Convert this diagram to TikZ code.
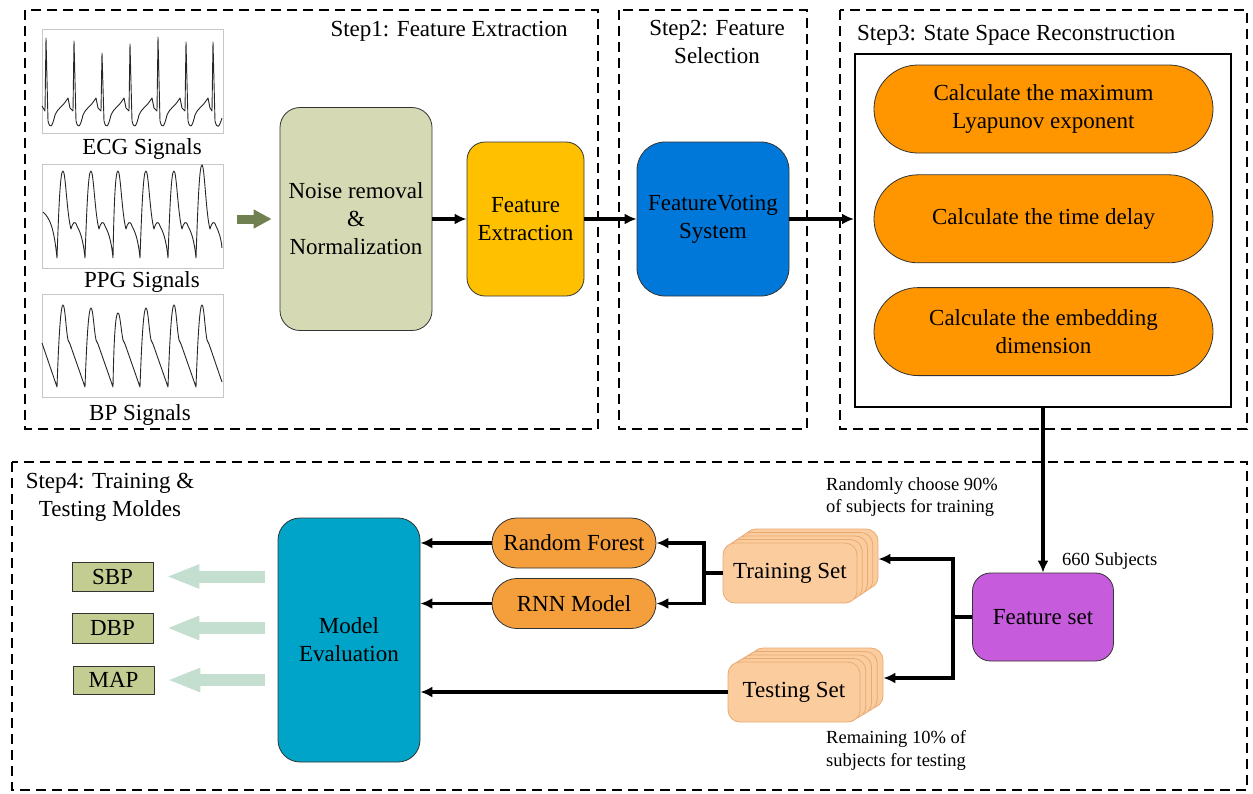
\documentclass[tikz,border=0pt]{standalone}
\usepackage{fontspec}
\setmainfont{Liberation Serif}
\usetikzlibrary{arrows.meta, positioning}

\definecolor{noisefill}{RGB}{214,218,180}
\definecolor{extractfill}{RGB}{255,192,0}
\definecolor{votefill}{RGB}{0,120,218}
\definecolor{calcorange}{RGB}{255,150,0}
\definecolor{setpurple}{RGB}{198,92,220}
\definecolor{cardfill}{RGB}{251,204,158}
\definecolor{cardline}{RGB}{232,170,115}
\definecolor{modelorange}{RGB}{245,158,60}
\definecolor{evalblue}{RGB}{0,164,200}
\definecolor{outfill}{RGB}{195,205,145}
\definecolor{fatgreen}{RGB}{196,222,208}
\definecolor{inputgreen}{RGB}{112,128,80}

\begin{document}
\begin{tikzpicture}[
  x=1pt, y=-1pt,
  node distance=21pt,
  txt/.style={font=\fontsize{23}{28}\selectfont},
  small/.style={font=\fontsize{18.5}{22}\selectfont, inner sep=0pt},
  box/.style={rectangle, draw=black!80, line width=0.8pt, align=center, txt},
  stepframe/.style={draw, dash pattern=on 10pt off 6pt, line width=1.5pt},
  sigframe/.style={draw=black!22, line width=1pt, minimum width=181pt, inner sep=0pt},
  wave/.style={line width=0.9pt, black!85, line join=round},
  pill/.style={box, rounded corners=44pt, fill=calcorange, minimum width=339pt, minimum height=88pt},
  model/.style={box, rounded corners=25pt, fill=modelorange, minimum width=164pt, minimum height=50pt},
  card/.style={box, draw=cardline, fill=cardfill, rounded corners=12pt, minimum height=60pt},
  outbox/.style={box, fill=outfill, minimum width=81pt, minimum height=29pt, inner sep=0pt},
  arrow/.style={-{Latex[length=12pt, width=11pt]}, line width=3.2pt},
  fatarrow/.style={-{Triangle[length=33pt, width=22pt]}, line width=12pt, draw=fatgreen},
  inarrow/.style={-{Triangle[length=18pt, width=18pt]}, line width=9pt, draw=inputgreen}
]
\useasboundingbox (0,0) rectangle (1253,793);

% step frames
\draw[stepframe] (25,10) rectangle (598,429);
\draw[stepframe] (619,10) rectangle (807,429);
\draw[stepframe] (840,10) rectangle (1247,429);
\draw[stepframe] (12,462) rectangle (1247,790);

\node[txt, anchor=base] (s1title) at (449,36) {Step1: Feature Extraction};
\node[txt, align=center, inner sep=0pt] (s2title) at (717,42) {Step2: Feature\\Selection};
\node[txt, anchor=base west, inner sep=0pt] (s3title) at (857,40) {Step3: State Space Reconstruction};
\node[txt, align=center, inner sep=0pt] (s4title) at (110,497.5) {Step4: Training \&\\Testing Moldes};

% signals
\node[sigframe, minimum height=104pt] (ecgbox) at (132.5,81) {};
\node[sigframe, minimum height=104pt] (ppgbox) at (132.5,216) {};
\node[sigframe, minimum height=103pt] (bpbox) at (132.5,345.5) {};
\node[txt, anchor=base] (ecglbl) at (142,154) {ECG Signals};
\node[txt, anchor=base] (ppglbl) at (142,287) {PPG Signals};
\node[txt, anchor=base] (bplbl) at (140,420) {BP Signals};

\draw[wave] (42,106) foreach \x/\h in {46/38,74/41,102/53,130/44,158/37,186/42} {
  -- ({\x-1},111) -- (\x,\h) -- ({\x+2},121) .. controls ({\x+4},129) and ({\x+6},128) .. ({\x+9},115)
  .. controls ({\x+12},108) and ({\x+17},106) .. ({\x+20},101) -- ({\x+22},98) -- ({\x+24},108)}
  -- (212,111) -- (213,42) -- (215,121) .. controls (217,129) and (219,128) .. (222,118);

\draw[wave] (43,212) .. controls (50,218) and (54,228) .. (57,258) foreach \p in {63,91,118,146,174} {
  .. controls ({\p-4},200) and ({\p-2.5},171) .. (\p,171) .. controls ({\p+2.5},171) and ({\p+4},215) .. ({\p+8},229)
  .. controls ({\p+10},222) and ({\p+12},220) .. ({\p+14},226) .. controls ({\p+17},232) and ({\p+20},238) .. ({\p+22},258)}
  .. controls (198,200) and (199.5,165) .. (202,165) .. controls (204.5,165) and (206,215) .. (210,229)
  .. controls (212,222) and (214,220) .. (216,226) .. controls (219,232) and (221,238) .. (222,248);

\draw[wave] (42,343) -- (57,387) foreach \p/\h in {63/305,91/308,118/313,146/308,174/305} {
  .. controls ({\p-4},330) and ({\p-2},\h) .. (\p,\h) .. controls ({\p+2},\h) and ({\p+3},330) .. ({\p+5},340)
  -- ({\p+7},344) -- ({\p+22},387)}
  .. controls (198,330) and (200,305) .. (202,305) .. controls (204,305) and (205,330) .. (207,340)
  -- (209,344) -- (222,382);

% step 1 and 2
\node[box, fill=noisefill, rounded corners=20pt, minimum width=152pt, minimum height=223pt] (noise) at (356,219) {Noise removal\\\&\\Normalization};
\node[box, fill=extractfill, rounded corners=18pt, minimum width=117pt, minimum height=154pt] (fext) at (525.5,219) {Feature\\Extraction};
\node[box, fill=votefill, rounded corners=28pt, minimum width=152pt, minimum height=154pt] (vote) at (713,219) {FeatureVoting\\System};

% step 3
\node[draw=black, line width=2pt, minimum width=376pt, minimum height=353pt] (recon) at (1043,230.5) {};
\node[pill] (lyap) at (1043.5,109) {Calculate the maximum\\Lyapunov exponent};
\node[pill, below=of lyap] (delay) {Calculate the time delay};
\node[pill, below=24pt of delay] (embed) {Calculate the embedding\\dimension};

% step 4
\node[box, fill=setpurple, rounded corners=18pt, minimum width=141pt, minimum height=88pt] (fset) at (1043,617) {Feature set};
\foreach \i in {4,3,2,1}
  \node[card, minimum width=134pt] (train\i) at ({790+5.25*\i},{573-3.5*\i}) {};
\node[card, minimum width=134pt] (train) at (790,573) {Training Set};
\foreach \i in {4,3,2,1}
  \node[card, minimum width=132pt] (test\i) at ({794+5.75*\i},{692-3.5*\i}) {};
\node[card, minimum width=132pt] (test) at (794,692) {Testing Set};
\node[model] (rf) at (574,543) {Random Forest};
\node[model] (rnn) at (574,603.5) {RNN Model};
\node[box, fill=evalblue, rounded corners=22pt, minimum width=142pt, minimum height=244pt] (meval) at (349,640) {Model\\Evaluation};
\node[outbox] (sbp) at (112.5,576.5) {SBP};
\node[outbox, minimum height=30pt] (dbp) at (112.5,628) {DBP};
\node[outbox, minimum height=28pt] (map) at (113.5,680) {MAP};

\node[small, anchor=base west] (nsub) at (1062,565) {660 Subjects};
\node[small, align=left, anchor=west] (trainlbl) at (826,497.5) {Randomly choose 90\%\\of subjects for training};
\node[small, align=left, anchor=west, font=\fontsize{18.5}{23}\selectfont] (testlbl) at (826,750) {Remaining 10\% of\\subjects for testing};

% connectors
\draw[inarrow, shorten <=13pt, shorten >=8pt] (ppgbox.east |- noise.west) -- (noise.west);
\draw[arrow] (noise.east) -- (fext.west);
\draw[arrow] (fext.east) -- (vote.west);
\draw[arrow] (vote.east) -- (vote.east -| recon.west);
\draw[arrow] (recon.south) -- (fset.north);
\coordinate (fsplit) at (953,617);
\draw[arrow] (fset.west) -- (fsplit) |- (train4.east);
\draw[arrow] (fsplit) |- (test4.east);
\coordinate (tsplit) at (704,573);
\draw[arrow] (train.west) -- (tsplit) |- (rf.east);
\draw[arrow] (tsplit) |- (rnn.east);
\draw[arrow] (rf.west) -- (rf.west -| meval.east);
\draw[arrow] (rnn.west) -- (rnn.west -| meval.east);
\draw[arrow] (test.west) -- (test.west -| meval.east);
\foreach \o in {sbp,dbp,map}
  \draw[fatarrow, shorten <=13pt, shorten >=13pt] (\o.east -| meval.west) -- (\o.east);
\end{tikzpicture}
\end{document}
